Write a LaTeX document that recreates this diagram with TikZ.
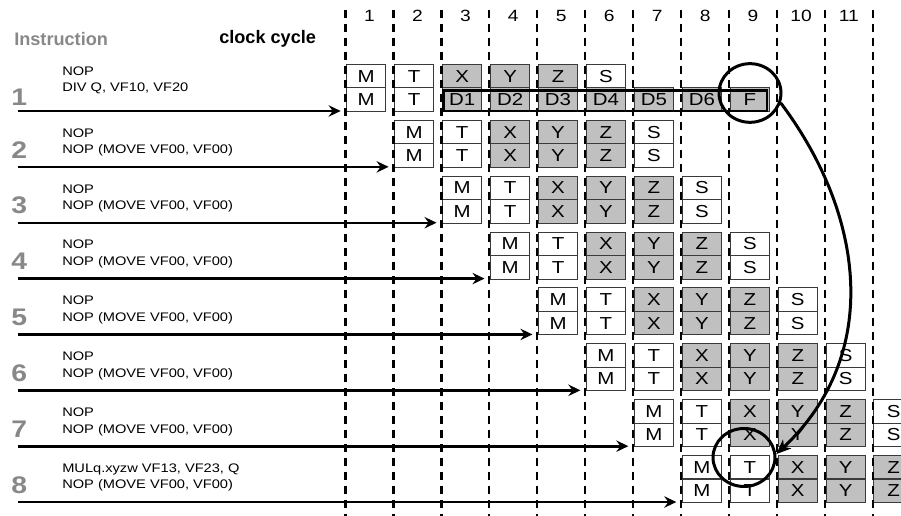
\documentclass[tikz,border=0pt]{standalone}
\usepackage{fontspec}
\setmainfont{Liberation Sans}
\usepackage{graphicx}
\usepackage{xcolor}
\usepackage{tikz}
\usetikzlibrary{arrows.meta,shapes.geometric}
\definecolor{cellgray}{HTML}{C0C0C0}
\definecolor{numgray}{HTML}{888888}
\definecolor{edgegray}{HTML}{3A3A3A}
\newcommand{\wide}[1]{\scalebox{1.18}[1]{#1}} % glyphs run a bit wide
\tikzset{
	cell/.style={draw=edgegray, line width=0.75pt, anchor=north west, inner sep=0pt,
		minimum width=29.6pt, minimum height=17.6pt, font=\fontsize{13}{13}\selectfont},
	free/.style={cell, fill=white},
	busy/.style={cell, fill=cellgray}, % pipeline stages X, Y, Z and the divider
	tick/.style={line width=1.7pt, dash pattern=on 6.3pt off 4.2pt},
	flow/.style={-{Stealth[length=9pt, width=8.5pt, inset=3pt]}, line width=1.7pt},
	ring/.style={draw, ellipse, line width=2.25pt, inner sep=0pt},
	link/.style={-{Stealth[length=11pt, width=9pt, inset=3pt]}, line width=2.25pt},
	head/.style={anchor=base west, inner sep=0pt, font=\bfseries\fontsize{13.6}{13.6}\selectfont},
	cycnum/.style={inner sep=0pt, font=\fontsize{12.2}{12.2}\selectfont},
	rownum/.style={anchor=west, inner sep=0pt, text=numgray, font=\bfseries\fontsize{18}{18}\selectfont},
	instr/.style={anchor=base west, inner sep=0pt, font=\fontsize{9.3}{11}\selectfont},
}
\begin{document}
\begin{tikzpicture}[x=0.75pt, y=-0.75pt]
	\clip (0,0) rectangle (901,516);

	\node[head, text=numgray] (instr) at (14,46) {Instruction};
	\node[head] (clock) at (219,44) {clock cycle};
	\foreach \k in {1,...,11}
		\node[cycnum] (cyc\k) at (345.5+47.95*\k-24,16) {\wide{\k}};

	% upper lane of every instruction
	\foreach \r in {1,...,8} {
		\pgfmathsetmacro{\rowy}{64+55.86*(\r-1)}
		\pgfmathsetmacro{\rowx}{346+47.95*(\r-1)}
		\foreach \s/\st [count=\i from 0] in {M/free,T/free,X/busy,Y/busy,Z/busy,S/free}
			\node[\st] (up\r-\i) at (\rowx+47.95*\i,\rowy) {\wide{\s}};
	}
	% lower lane, same stages for the NOP pairs
	\foreach \r in {2,...,8} {
		\pgfmathsetmacro{\rowy}{64+55.86*(\r-1)+23.5}
		\pgfmathsetmacro{\rowx}{346+47.95*(\r-1)}
		\foreach \s/\st [count=\i from 0] in {M/free,T/free,X/busy,Y/busy,Z/busy,S/free}
			\node[\st] (lo\r-\i) at (\rowx+47.95*\i,\rowy) {\wide{\s}};
	}
	% DIV keeps the divider busy for seven cycles
	\foreach \s/\st [count=\i from 0] in {M/free,T/free,D1/busy,D2/busy,D3/busy,D4/busy,D5/busy,D6/busy,F/busy}
		\node[\st] (lo1-\i) at (346+47.95*\i,87.5) {\wide{\s}};
	\draw[line width=2.2pt] (443.5,90.5) rectangle (767,111);

	% cycle boundaries
	\foreach \k in {0,...,11}
		\draw[tick] (345.5+47.95*\k,10) -- (345.5+47.95*\k,516);

	% instruction labels and issue arrows
	\node[rownum] (num1) at (11,97) {\wide{1}};
	\node[instr] (op1a) at (62,75.7) {\wide{NOP}};
	\node[instr] (op1b) at (62,91.9) {\wide{DIV Q, VF10, VF20}};
	\foreach \r in {2,...,7} {
		\pgfmathsetmacro{\arry}{64+55.86*(\r-1)+47}
		\node[rownum] (num\r) at (11,\arry-17) {\wide{\r}};
		\node[instr] (op\r a) at (62,\arry-29.6) {\wide{NOP}};
		\node[instr] (op\r b) at (62,\arry-13.1) {\wide{NOP (MOVE VF00, VF00)}};
	}
	\node[rownum] (num8) at (11,485) {\wide{8}};
	\node[instr] (op8a) at (62,472.4) {\wide{MULq.xyzw VF13, VF23, Q}};
	\node[instr] (op8b) at (62,488.9) {\wide{NOP (MOVE VF00, VF00)}};

	\foreach \r in {1,...,8} {
		\pgfmathsetmacro{\arry}{64+55.86*(\r-1)+47}
		\pgfmathsetmacro{\lw}{\r>5 ? 2.2 : 1.8}
		\coordinate (in\r) at (18,\arry);
		\draw[flow, line width=\lw pt] (in\r) -- ([xshift=-4pt]in\r -| lo\r-0.west);
	}

	% Q is ready at F, MULq reads it at T
	\node[ring, minimum width=46.5pt, minimum height=44pt] (ringF) at (750,93) {};
	\node[ring, minimum width=46.5pt, minimum height=43.5pt] (ringT) at (744,457.5) {};
	\draw[link] (ringF.-18) .. controls (865,215) and (882,355) .. (ringT.6);
\end{tikzpicture}
\end{document}
